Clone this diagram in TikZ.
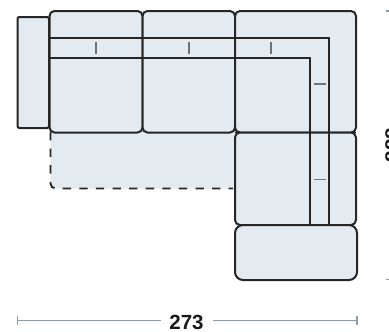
\documentclass[tikz,border=0pt]{standalone}
\usepackage{fontspec}
\setmainfont{Liberation Sans}
\tikzset{
    unit/.style={draw=black!85, line width=2pt, fill=sofa, rounded corners=5pt},
    seam/.style={draw=black!85, line width=1.9pt},
    extension/.style={draw=black!85, line width=1.9pt, dash pattern=on 8.3pt off 8.3pt, fill=sofa, rounded corners=5pt},
    tick/.style={draw=black!55, line width=1.2pt},
    dimline/.style={draw=dimcol, line width=1.6pt},
    dimlabel/.style={font=\fontsize{20.5}{20.5}\selectfont\bfseries, text=black!90, inner sep=0pt}
}
\definecolor{sofa}{HTML}{E3EAF0}
\definecolor{dimcol}{HTML}{8A9CA8}
\begin{document}
\begin{tikzpicture}[x=1pt,y=-1pt]
            \useasboundingbox (0,0) rectangle (389,332);

            \fill[sofa, rounded corners=5pt] (50.5,125) rectangle (236,188.5);
            \draw[extension, fill=none] (50.5,132) -- (50.5,188.5) -- (233,188.5);

            \draw[unit, rounded corners=2pt] (17.5,17) rectangle (49,128);
            \draw[unit] (49.5,11) rectangle (142.5,132.5);
            \draw[unit] (142.5,11) rectangle (235,132.5);
            \draw[unit] (235,11) rectangle (356,132.5);
            \draw[unit] (235,132.5) rectangle (356,225);
            \draw[unit, rounded corners=8pt] (235,225) rectangle (357,280);

            \draw[seam] (49.5,38) -- (329,38) -- (329,225);
            \draw[seam] (49.5,58) -- (310,58) -- (310,225);
            \draw[seam] (235,132.5) -- (356,132.5);

            \draw[tick] (96,42) -- (96,54);
            \draw[tick] (189,42) -- (189,54);
            \draw[tick] (271,42) -- (271,54);
            \draw[tick] (313.5,84) -- (326,84);
            \draw[tick] (313.5,179.5) -- (326,179.5);

            \node[dimlabel] (width) at (186.5,322.5) {273};
            \coordinate (widthL) at (17.5,320.5);
            \coordinate (widthR) at (357,320.5);
            \draw[dimline] (widthL) -- (160.5,320.5);
            \draw[dimline] (213,320.5) -- (widthR);
            \draw[dimline] (17.5,316) -- (17.5,325);
            \draw[dimline] (357,316) -- (357,325);

            \node[dimlabel, rotate=90, anchor=south] (depth) at (400,145) {888};
            \draw[dimline] (385.7,11) -- (389,11);
            \draw[dimline] (385.7,279.5) -- (389,279.5);
        \end{tikzpicture}
\end{document}
